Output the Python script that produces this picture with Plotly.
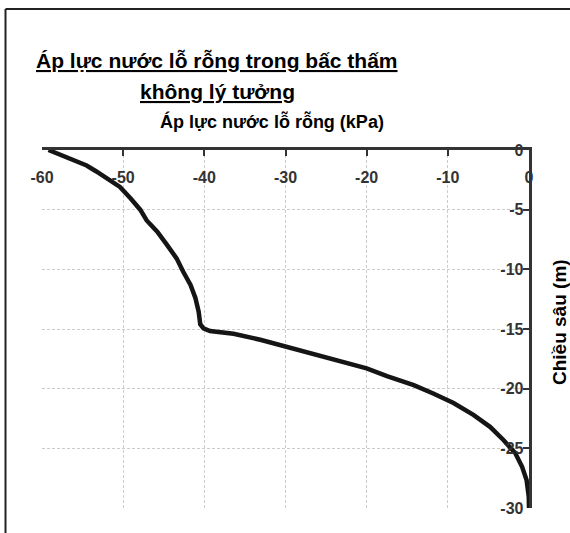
import plotly.graph_objects as go

# Pore water pressure (kPa) vs depth (m)
pressure = [-59.2, -57.75, -56.1, -54.5, -53.3, -52.0, -50.4, -49.1, -47.9, -47.1,
            -45.8, -44.6, -43.4, -42.6, -41.7, -41.1, -40.7, -40.5, -40.1,
            -39.3, -36.4, -33.1, -29.8, -27.0, -23.3, -20.0, -17.5, -14.2, -11.8,
            -9.3, -6.85, -4.8, -3.15, -1.7, -0.85, -0.3, -0.03, 0.0]
depth = [0.0, -0.42, -0.84, -1.3, -1.8, -2.4, -3.1, -4.05, -5.0, -5.9,
         -6.85, -7.95, -9.1, -10.2, -11.3, -12.4, -13.55, -14.6, -14.95,
         -15.17, -15.4, -15.9, -16.5, -17.05, -17.7, -18.3, -18.95, -19.7, -20.4,
         -21.2, -22.2, -23.2, -24.3, -25.4, -26.55, -27.65, -29.05, -30.0]

x_ticks = [-60, -50, -40, -30, -20, -10, 0]
y_ticks = [0, -5, -10, -15, -20, -25, -30]

title_line1 = "Áp lực nước lỗ rỗng trong bấc thấm"
title_line2 = "không lý tưởng"
x_title = "Áp lực nước lỗ rỗng (kPa)"
y_title = "Chiều sâu (m)"

FONT = "Liberation Sans, Arial, sans-serif"
AXC = "#333333"
GRID = "#cccccc"

fig = go.Figure()
fig.add_trace(go.Scatter(x=pressure, y=depth, mode="lines",
                         line=dict(color="#151515", width=4.5), showlegend=False,
                         hoverinfo="skip"))

W, H = 570, 533
ml, mr, mt, mb = 42, 41, 150, 25
pw, ph = W - ml - mr, H - mt - mb

def px(x):
    return (x - ml) / pw

def py(y):
    return (H - mb - y) / ph

axis_common = dict(
    ticks="inside", ticklen=6, tickwidth=2, tickcolor=AXC,
    showline=True, linecolor=AXC, linewidth=2.5,
    ticklabelposition="inside", ticklabeloverflow="allow",
    tickfont=dict(family=FONT, size=16, color=AXC, weight="bold"),
    showgrid=True, gridcolor=GRID, gridwidth=1, griddash="3px,2px",
    zeroline=False, fixedrange=True,
)

fig.update_layout(
    width=W, height=H,
    margin=dict(l=ml, r=mr, t=mt, b=mb, pad=0),
    paper_bgcolor="white", plot_bgcolor="white",
    font=dict(family=FONT, color="black"),
    xaxis=dict(side="top", range=[-60, 0], tickvals=x_ticks,
               ticktext=[str(v) for v in x_ticks], ticklabelstandoff=16,
               **axis_common),
    yaxis=dict(side="right", range=[-30, 0], tickvals=y_ticks,
               ticktext=[str(v) for v in y_ticks],
               **axis_common),
    shapes=[
        dict(type="line", xref="paper", yref="paper", x0=px(5.5), x1=px(5.5),
             y0=py(540), y1=py(9), line=dict(color="#222222", width=2)),
        dict(type="line", xref="paper", yref="paper", x0=px(5.5), x1=px(580),
             y0=py(9), y1=py(9), line=dict(color="#222222", width=2)),
    ],
    annotations=[
        dict(text="<u>" + title_line1 + "</u>", xref="paper", yref="paper",
             x=px(217), y=py(60), xanchor="center", yanchor="middle",
             showarrow=False, font=dict(family=FONT, size=21, color="black", weight="bold")),
        dict(text="<u>" + title_line2 + "</u>", xref="paper", yref="paper",
             x=px(217), y=py(92), xanchor="center", yanchor="middle",
             showarrow=False, font=dict(family=FONT, size=21, color="black", weight="bold")),
        dict(text=x_title, xref="paper", yref="paper",
             x=px(271.5), y=py(122), xanchor="center", yanchor="middle",
             showarrow=False, font=dict(family=FONT, size=18, color="black", weight="bold")),
        dict(text=y_title, xref="paper", yref="paper", textangle=-90,
             x=px(559), y=py(322), xanchor="center", yanchor="middle",
             showarrow=False, font=dict(family=FONT, size=19, color="black", weight="bold")),
    ],
)

fig.write_html("out.html", config={"displayModeBar": False},
               post_script="document.body.style.margin='0px';document.body.style.padding='0px';")
